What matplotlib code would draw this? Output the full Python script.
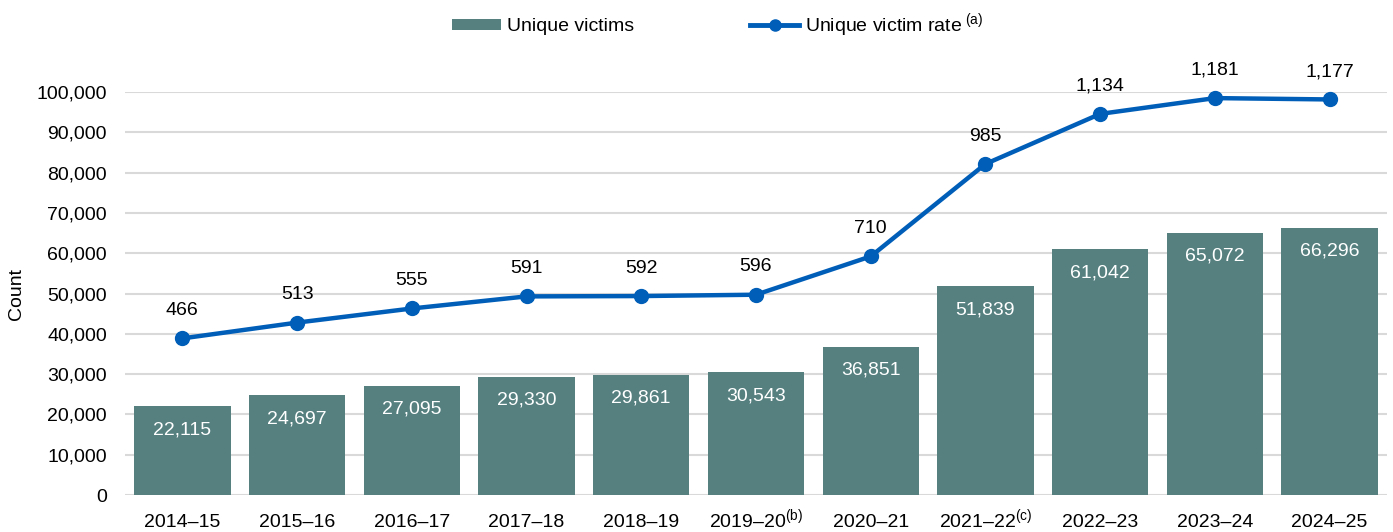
import numpy as np
import matplotlib.pyplot as plt
from matplotlib.lines import Line2D
from matplotlib.patches import Patch

plt.rcParams['font.family'] = ['Liberation Sans', 'DejaVu Sans']
plt.rcParams['mathtext.fontset'] = 'custom'
plt.rcParams['mathtext.rm'] = 'Liberation Sans'
plt.rcParams['mathtext.it'] = 'Liberation Sans'

## data
years = ['2014–15', '2015–16', '2016–17', '2017–18', '2018–19',
         '2019–20$^{\\mathregular{(b)}}$', '2020–21', '2021–22$^{\\mathregular{(c)}}$',
         '2022–23', '2023–24', '2024–25']
victims = [22115, 24697, 27095, 29330, 29861, 30543, 36851, 51839, 61042, 65072, 66296]
rate = [466, 513, 555, 591, 592, 596, 710, 985, 1134, 1181, 1177]

bar_col = '#568080'
line_col = '#005EB8'
fs = 14

fig = plt.figure(figsize=(13.93, 5.32), dpi=100)
ax = fig.add_axes([0.0897, 0.0695, 0.906, 0.7575])
x = np.arange(len(years))

## bars
ax.bar(x, victims, width=0.84, color=bar_col, zorder=2)
for xi, v in zip(x, victims):
    ax.annotate(f'{v:,}', (xi, v), xytext=(0, -17), textcoords='offset points',
                ha='center', va='center', color='white', fontsize=fs, zorder=3)

ax.set_xlim(-0.5, len(years) - 0.5)
ax.set_ylim(0, 100000)
ax.set_yticks(np.arange(0, 100001, 10000))
ax.yaxis.set_major_formatter(plt.FuncFormatter(lambda v, p: f'{int(v):,}'))
ax.set_xticks(x)
ax.set_xticklabels(years)
ax.tick_params(axis='both', length=0, labelsize=fs, colors='black')
ax.tick_params(axis='x', pad=23)
ax.tick_params(axis='y', pad=13)
for lbl in ax.get_xticklabels():
    lbl.set_va('baseline')
ax.grid(axis='y', color='#d9d9d9', linewidth=1.5, zorder=0)
ax.set_axisbelow(True)
for s in ax.spines.values():
    s.set_visible(False)
ax.set_ylabel('Count', fontsize=fs, labelpad=8)

## rate line on hidden secondary axis
ax2 = ax.twinx()
ax2.set_ylim(0, 100000 / 83.4)
ax2.plot(x, rate, color=line_col, linewidth=3.2, marker='o', markersize=10, zorder=4,
         clip_on=False)
for xi, r in zip(x, rate):
    ax2.annotate(f'{r:,}', (xi, r), xytext=(0, 20), textcoords='offset points',
                 ha='center', va='center', fontsize=fs, color='black',
                 annotation_clip=False)
ax2.set_yticks([])
for s in ax2.spines.values():
    s.set_visible(False)

## legend
handles = [Patch(facecolor=bar_col, edgecolor='none'),
           Line2D([], [], color=line_col, linewidth=3.5, marker='o', markersize=8)]
labels = ['Unique victims', 'Unique victim rate$^{\\mathregular{\\ (a)}}$']
fig.legend(handles, labels, loc='center', bbox_to_anchor=(0.515, 0.953), ncol=2,
           frameon=False, fontsize=fs, handlelength=2.5, handleheight=0.5,
           handletextpad=0.3, columnspacing=6.0)

fig.savefig('out.png', dpi=100)
